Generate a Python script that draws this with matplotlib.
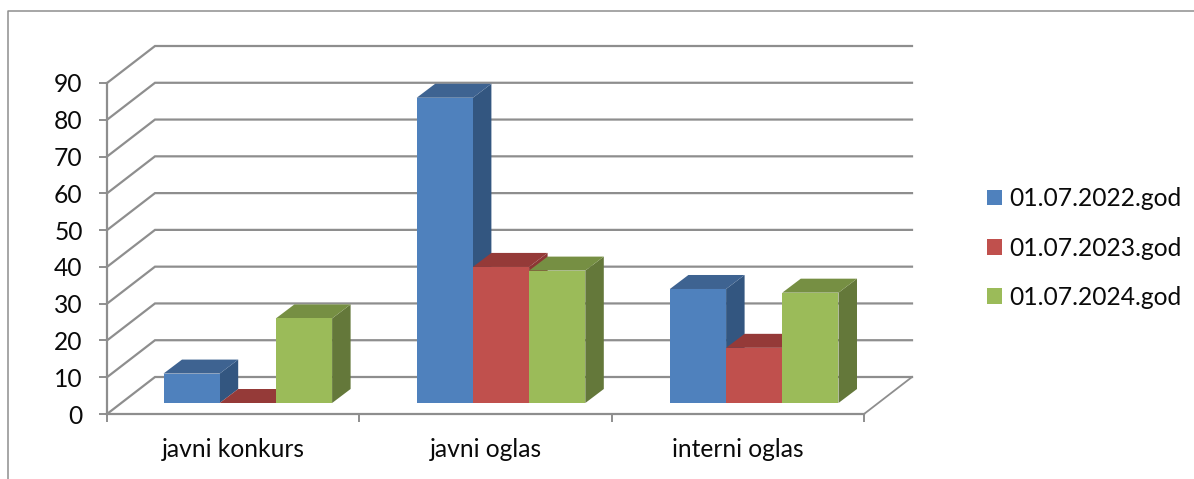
import matplotlib
matplotlib.use("Agg")
import matplotlib.pyplot as plt
from matplotlib.lines import Line2D
from matplotlib.patches import Patch, Polygon

categories = ["javni konkurs", "javni oglas", "interni oglas"]
series_names = ["01.07.2022.god", "01.07.2023.god", "01.07.2024.god"]
values_2022 = [8, 83, 31]
values_2023 = [0, 37, 15]
values_2024 = [23, 36, 30]
y_ticks = [0, 10, 20, 30, 40, 50, 60, 70, 80, 90]

FRONT = ["#4f81bd", "#c0504d", "#9bbb59"]
TOP = ["#3e6391", "#953a38", "#768f43"]
SIDE = ["#335680", "#8c3634", "#64783a"]
GREY = "#8e8e8e"
TEXT = "#0a0a0a"
FONT_SIZE = 17.7

W, H = 1194, 479
plt.rcParams["font.family"] = ["Lato", "DejaVu Sans"]

fig = plt.figure(figsize=(W / 100, H / 100), dpi=100)
ax = fig.add_axes([107 / W, (H - 414) / H, (864 - 107) / W, (414 - 83) / H])
ax.set_xlim(0, 3)
ax.set_ylim(0, 90)
ax.patch.set_visible(False)

# px -> data units
px_x = 3 / (864 - 107)
px_y = 90 / (414 - 83)
wall_dx, wall_dy = 48 * px_x, 37 * px_y
bar_w = 56.2 * px_x
bar_dx, bar_dy = 18.5 * px_x, 14 * px_y
bar_start = 56.5 * px_x
group_pitch = 253.2 * px_x
base_y = 11 * px_y

# walls
for v in y_ticks:
    ax.plot([0, wall_dx, 3 + wall_dx], [v, v + wall_dy, v + wall_dy],
            color=GREY, lw=1.6, clip_on=False, zorder=1, solid_joinstyle="miter")
ax.plot([3, 3 + wall_dx], [0, wall_dy], color=GREY, lw=1.3, clip_on=False, zorder=1)

# bars
all_values = [values_2022, values_2023, values_2024]
for i in range(len(categories)):
    x0 = i * group_pitch + bar_start
    for j, vals in enumerate(all_values):
        v = vals[i]
        xl = x0 + j * bar_w
        xr = xl + bar_w
        yb = base_y
        yt = base_y + v
        ax.add_patch(Polygon([(xr, yb), (xr + bar_dx, yb + bar_dy), (xr + bar_dx, yt + bar_dy), (xr, yt)],
                             closed=True, fc=SIDE[j], ec="none", clip_on=False, zorder=3 + j))
        ax.add_patch(Polygon([(xl, yt), (xl + bar_dx, yt + bar_dy), (xr + bar_dx, yt + bar_dy), (xr, yt)],
                             closed=True, fc=TOP[j], ec="none", clip_on=False, zorder=3 + j))
        ax.bar(xl, v, bar_w, bottom=yb, align="edge", color=FRONT[j], lw=0, zorder=3 + j, clip_on=False)

# axes
for name in ("top", "right"):
    ax.spines[name].set_visible(False)
for name in ("left", "bottom"):
    ax.spines[name].set_color(GREY)
    ax.spines[name].set_linewidth(1.6)
    ax.spines[name].set_zorder(2)
ax.set_yticks(y_ticks)
ax.set_xticks([0, 1, 2, 3])
ax.set_xticklabels([])
ax.set_xticks([0.5, 1.5, 2.5], minor=True)
ax.set_xticklabels(categories, minor=True, fontsize=FONT_SIZE, color=TEXT)
ax.tick_params(axis="y", length=6, width=1.4, color=GREY, labelsize=FONT_SIZE, labelcolor=TEXT, pad=11.5)
ax.tick_params(axis="x", which="major", length=6, width=1.4, color=GREY)
ax.tick_params(axis="x", which="minor", length=0, pad=17.5)

# legend
handles = [Patch(fc=c, ec="none", label=n) for c, n in zip(FRONT, series_names)]
fig.legend(handles=handles, loc="center left", bbox_to_anchor=(980 / W, (H - 248) / H),
           frameon=False, fontsize=FONT_SIZE, labelcolor=TEXT, handlelength=0.61, handleheight=0.61,
           handletextpad=0.28, labelspacing=1.07, borderaxespad=0, borderpad=0.3)

# outer frame
fig.add_artist(Line2D([8 / W, 8 / W, 1], [0, (H - 10.5) / H, (H - 10.5) / H], color=GREY, lw=1.1))

fig.savefig("out.png", dpi=100, facecolor="white")
